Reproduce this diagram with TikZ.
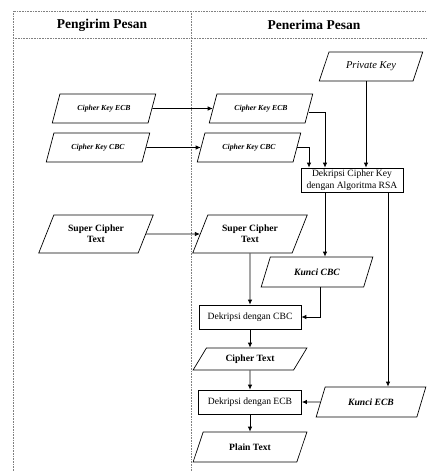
\documentclass[tikz,border=0pt]{standalone}
\usepackage{fontspec}
\setmainfont{Liberation Serif}
\usetikzlibrary{shapes.geometric, arrows.meta}

\begin{document}
\begin{tikzpicture}[x=1pt, y=-1pt,
    data/.style={draw, line width=0.7pt, trapezium, trapezium left angle=62, trapezium right angle=118, trapezium stretches=true, align=center, inner sep=1pt},
    cipherkey/.style={data, minimum width=104, minimum height=29, font=\fontsize{7.7}{9}\selectfont\bfseries\itshape},
    dataname/.style={font=\fontsize{9.6}{10.7}\selectfont\bfseries},
    kunci/.style={data, minimum height=30, font=\fontsize{9.6}{10.7}\selectfont\bfseries\itshape},
    proses/.style={draw, line width=0.7pt, rectangle, align=center, inner sep=1pt, minimum height=24, font=\fontsize{9.6}{11.5}\selectfont},
    header/.style={font=\fontsize{13.5}{16}\selectfont\bfseries},
    arr/.style={line width=0.8pt, -{Latex[length=5pt, width=4.5pt]}},
    lane/.style={gray, densely dotted, line width=0.6pt}]
    \useasboundingbox (0, 0) rectangle (426, 471);

    \draw[lane] (13, 471) -- (13, 11) -- (426, 11);
    \draw[lane] (13, 38) -- (426, 38);
    \draw[lane] (191, 11) -- (191, 471);
    \node[header] at (102, 25) (hkirim) {Pengirim Pesan};
    \node[header] at (314, 25) (hterima) {Penerima Pesan};

    \node[data, minimum width=104, minimum height=29, font=\fontsize{10.5}{12}\selectfont\itshape] at (371, 66.5) (pkey) {Private Key};
    \node[cipherkey] at (104, 108.5) (lecb) {Cipher Key ECB};
    \node[cipherkey] at (261, 108.5) (recb) {Cipher Key ECB};
    \node[cipherkey] at (98, 147.5) (lcbc) {Cipher Key CBC};
    \node[cipherkey] at (249, 147.5) (rcbc) {Cipher Key CBC};
    \node[proses, minimum width=102] at (352, 180) (rsa) {Dekripsi Cipher Key\\dengan Algoritma RSA};
    \node[data, dataname, minimum width=115, minimum height=38] at (96, 234) (lsct) {Super Cipher\\Text};
    \node[data, dataname, minimum width=115, minimum height=38] at (250, 234) (rsct) {Super Cipher\\Text};
    \node[kunci, minimum width=112] at (317, 272) (kcbc) {Kunci CBC};
    \node[proses, minimum width=102] at (250, 317) (dcbc) {Dekripsi dengan CBC};
    \node[data, dataname, minimum width=114, minimum height=22, trapezium left angle=54, trapezium right angle=126] at (250, 359) (ctext) {Cipher Text};
    \node[proses, minimum width=103] at (250, 402) (decb) {Dekripsi dengan ECB};
    \node[kunci, minimum width=110] at (371, 402) (kecb) {Kunci ECB};
    \node[data, dataname, minimum width=114, minimum height=30] at (250, 447) (ptext) {Plain Text};

    \draw[arr] (lecb) -- (recb);
    \draw[arr] (lcbc) -- (rcbc);
    \draw[arr] ([yshift=-4]recb.east) -| ([xshift=-27]rsa.north);
    \draw[arr] (rcbc.east) -| ([xshift=-43]rsa.north);
    \draw[arr] ([xshift=14]rsa.north |- pkey.south) -- ([xshift=14]rsa.north);
    \draw[arr] ([xshift=-27]rsa.south) -- ([xshift=-27]rsa.south |- kcbc.north);
    \draw[arr] ([xshift=36]rsa.south) -- ([xshift=36]rsa.south |- kecb.north);
    \draw[arr] (lsct) -- (rsct);
    \draw[arr] (rsct) -- (dcbc);
    \draw[arr] ([xshift=3.5]kcbc.south) |- (dcbc.east);
    \draw[arr] (dcbc) -- (ctext);
    \draw[arr] (ctext) -- (decb);
    \draw[arr] (kecb) -- (decb);
    \draw[arr] (decb) -- (ptext);
\end{tikzpicture}
\end{document}
